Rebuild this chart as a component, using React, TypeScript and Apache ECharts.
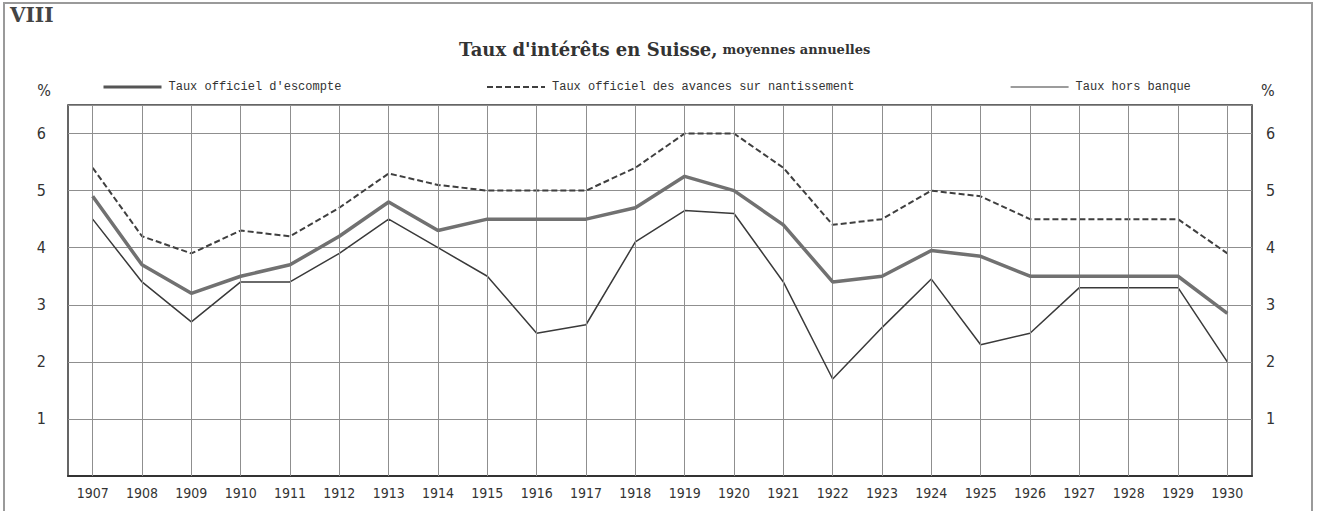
import React, { useEffect, useRef } from "react";
import * as echarts from "echarts";

const years = ["1907","1908","1909","1910","1911","1912","1913","1914","1915","1916","1917","1918","1919","1920","1921","1922","1923","1924","1925","1926","1927","1928","1929","1930"];
const escompte = [4.9,3.7,3.2,3.5,3.7,4.2,4.8,4.3,4.5,4.5,4.5,4.7,5.25,5.0,4.4,3.4,3.5,3.95,3.85,3.5,3.5,3.5,3.5,2.85];
const avances = [5.4,4.2,3.9,4.3,4.2,4.7,5.3,5.1,5.0,5.0,5.0,5.4,6.0,6.0,5.4,4.4,4.5,5.0,4.9,4.5,4.5,4.5,4.5,3.9];
const horsBanque = [4.5,3.4,2.7,3.4,3.4,3.9,4.5,4.0,3.5,2.5,2.65,4.1,4.65,4.6,3.4,1.7,2.6,3.45,2.3,2.5,3.3,3.3,3.3,2.0];
const yTicks = [1,2,3,4,5,6];

const S1 = "Taux officiel d'escompte";
const S2 = "Taux officiel des avances sur nantissement";
const S3 = "Taux hors banque";

const tickFont = "'DejaVu Sans Condensed', 'Liberation Sans Narrow', 'DejaVu Sans', sans-serif";
const legendFont = "'Liberation Mono', 'DejaVu Sans Mono', monospace";

export default function App() {
  const ref = useRef<HTMLDivElement>(null);
  useEffect(() => {
    const chart = echarts.init(ref.current!, null, { renderer: "svg" });
    const yFmt = (v: number) => (yTicks.indexOf(v) >= 0 ? String(v) : "");
    const yCommon = {
      type: "value",
      min: 0,
      max: 6.5,
      interval: 1,
      name: "%",
      nameLocation: "end",
      nameGap: 7,
      axisLine: { show: false },
      axisTick: { show: false },
      splitLine: { show: true, lineStyle: { color: "#8f8f8f", width: 1 } },
    };
    const legendCommon = {
      itemWidth: 58,
      itemHeight: 10,
      top: 76,
      itemStyle: { opacity: 0 },
      textStyle: { fontFamily: legendFont, fontSize: 12, color: "#333", padding: [0, 0, 0, 2] },
    };
    chart.setOption({
      animation: false,
      backgroundColor: "#fff",
      title: {
        text: "{a|Taux d'intérêts en Suisse,} {b|moyennes annuelles}",
        left: 454,
        top: 35,
        textStyle: {
          rich: {
            a: { fontFamily: "'DejaVu Serif', serif", fontWeight: "bold", fontSize: 18, color: "#333" },
            b: { fontFamily: "'DejaVu Serif', serif", fontWeight: "bold", fontSize: 13, color: "#333" },
          },
        },
      },
      legend: [
        { ...legendCommon, left: 97, data: [S1], lineStyle: { width: 3, color: "#555" } },
        { ...legendCommon, left: 481, data: [S2], lineStyle: { width: 2 } },
        { ...legendCommon, left: 1005, data: [S3], lineStyle: { width: 1.2 } },
      ],
      graphic: [
        {
          type: "rect",
          shape: { x: 4, y: 3, width: 1308, height: 540 },
          style: { fill: "none", stroke: "#9a9a9a", lineWidth: 2 },
          silent: true,
        },
        {
          type: "text",
          left: 10,
          top: 5,
          style: { text: "VIII", fontFamily: "'DejaVu Serif', serif", fontWeight: "bold", fontSize: 20, fill: "#444" },
        },
      ],
      grid: {
        left: 68,
        right: 65,
        top: 105,
        bottom: 35,
        show: true,
        borderColor: "#333",
        borderWidth: 1.5,
        backgroundColor: "transparent",
      },
      xAxis: {
        type: "category",
        data: years,
        boundaryGap: true,
        axisLine: { show: true, lineStyle: { color: "#333", width: 2 } },
        axisTick: { show: false },
        splitLine: { show: false },
        axisLabel: { interval: 0, margin: 10, fontFamily: tickFont, fontSize: 14, color: "#333" },
      },
      yAxis: [
        {
          ...yCommon,
          position: "left",
          nameTextStyle: { fontFamily: tickFont, fontSize: 16, color: "#333", align: "right", padding: [0, 17, 0, 0] },
          axisLabel: { formatter: yFmt, margin: 22, fontFamily: tickFont, fontSize: 16, color: "#333" },
        },
        {
          ...yCommon,
          position: "right",
          splitLine: { show: false },
          nameTextStyle: { fontFamily: tickFont, fontSize: 16, color: "#333", align: "left", padding: [0, 0, 0, 9] },
          axisLabel: { formatter: yFmt, margin: 14, fontFamily: tickFont, fontSize: 16, color: "#333" },
        },
      ],
      series: [
        {
          name: "vgrid",
          type: "line",
          z: 1,
          data: years.map(() => null),
          silent: true,
          markLine: {
            silent: true,
            symbol: ["none", "none"],
            label: { show: false },
            lineStyle: { color: "#8f8f8f", width: 1, type: "solid" },
            data: years.map((y) => ({ xAxis: y })),
          },
        },
        {
          name: S3,
          type: "line",
          data: horsBanque,
          symbol: "none",
          z: 3,
          lineStyle: { color: "#3a3a3a", width: 1.5 },
          itemStyle: { color: "#3a3a3a" },
        },
        {
          name: S2,
          type: "line",
          data: avances,
          symbol: "none",
          z: 4,
          lineStyle: { color: "#3f3f3f", width: 2, type: [6, 3] },
          itemStyle: { color: "#3f3f3f" },
        },
        {
          name: S1,
          type: "line",
          data: escompte,
          symbol: "none",
          z: 5,
          lineStyle: { color: "#717171", width: 3.5 },
          itemStyle: { color: "#717171" },
        },
      ],
    });
    return () => chart.dispose();
  }, []);
  return <div ref={ref} style={{ position: "fixed", left: 0, top: 0, width: 1317, height: 511 }} />;
}
